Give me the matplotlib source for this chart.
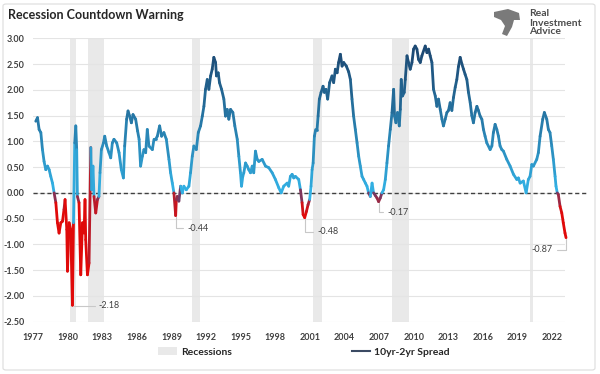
import matplotlib
matplotlib.use("Agg")
import matplotlib.pyplot as plt
import numpy as np
from matplotlib.collections import LineCollection
from matplotlib.colors import to_rgb
from matplotlib.patches import Patch, FancyBboxPatch, Polygon
from matplotlib.lines import Line2D

plt.rcParams['font.family'] = ['Lato', 'DejaVu Sans']

# 10yr-2yr spread (decimal year, percent)
years = [1977.23, 1977.38, 1977.52, 1977.67, 1977.81, 1977.95, 1978.10, 1978.25, 1978.39, 1978.53,
         1978.68, 1978.82, 1978.97, 1979.11, 1979.25, 1979.40, 1979.55, 1979.68, 1979.77, 1979.92,
         1979.98, 1980.12, 1980.26, 1980.41, 1980.50, 1980.61, 1980.70, 1980.78, 1980.84, 1980.98,
         1981.13, 1981.28, 1981.42, 1981.50, 1981.56, 1981.71, 1981.85, 1982.00, 1982.08, 1982.19,
         1982.28, 1982.43, 1982.58, 1982.71, 1982.80, 1982.92, 1983.10, 1983.21, 1983.38, 1983.58,
         1983.73, 1983.87, 1984.01, 1984.25, 1984.45, 1984.65, 1984.83, 1984.94, 1985.11, 1985.23,
         1985.37, 1985.52, 1985.66, 1985.89, 1986.06, 1986.19, 1986.32, 1986.47, 1986.61, 1986.76,
         1986.90, 1987.04, 1987.34, 1987.48, 1987.62, 1987.77, 1987.97, 1988.14, 1988.34, 1988.55,
         1988.78, 1988.92, 1989.07, 1989.21, 1989.36, 1989.42, 1989.50, 1989.64, 1989.79, 1989.94,
         1990.07, 1990.28, 1990.51, 1990.65, 1990.80, 1990.94, 1991.15, 1991.32, 1991.52, 1991.67,
         1991.81, 1991.95, 1992.10, 1992.24, 1992.39, 1992.53, 1992.67, 1992.82, 1992.90, 1993.05,
         1993.16, 1993.34, 1993.54, 1993.68, 1993.83, 1993.97, 1994.12, 1994.32, 1994.49, 1994.70,
         1994.84, 1994.98, 1995.07, 1995.18, 1995.27, 1995.42, 1995.56, 1995.70, 1995.85, 1996.00,
         1996.13, 1996.28, 1996.43, 1996.57, 1996.86, 1997.15, 1997.43, 1997.73, 1998.01, 1998.30,
         1998.51, 1998.73, 1999.03, 1999.16, 1999.31, 1999.46, 1999.60, 1999.74, 2000.03, 2000.18,
         2000.32, 2000.41, 2000.55, 2000.70, 2000.84, 2000.98, 2001.10, 2001.19, 2001.28, 2001.39,
         2001.50, 2001.62, 2001.71, 2001.82, 2001.97, 2002.14, 2002.26, 2002.40, 2002.54, 2002.71,
         2002.92, 2003.06, 2003.21, 2003.36, 2003.49, 2003.64, 2003.79, 2003.93, 2004.16, 2004.36,
         2004.51, 2004.65, 2004.79, 2004.94, 2005.09, 2005.23, 2005.37, 2005.52, 2005.66, 2005.81,
         2005.95, 2006.09, 2006.24, 2006.39, 2006.52, 2006.67, 2006.82, 2006.96, 2007.10, 2007.25,
         2007.39, 2007.54, 2007.68, 2007.82, 2007.97, 2008.12, 2008.26, 2008.34, 2008.46, 2008.60,
         2008.75, 2008.84, 2008.92, 2009.03, 2009.18, 2009.27, 2009.42, 2009.55, 2009.70, 2009.85,
         2009.99, 2010.13, 2010.28, 2010.42, 2010.57, 2010.71, 2011.00, 2011.15, 2011.29, 2011.43,
         2011.58, 2011.72, 2011.87, 2012.01, 2012.15, 2012.30, 2012.45, 2012.58, 2012.73, 2012.88,
         2013.02, 2013.16, 2013.31, 2013.45, 2013.60, 2013.74, 2013.88, 2014.03, 2014.18, 2014.32,
         2014.46, 2014.61, 2014.75, 2014.90, 2015.04, 2015.18, 2015.33, 2015.48, 2015.61, 2015.76,
         2015.91, 2016.05, 2016.19, 2016.34, 2016.63, 2016.78, 2016.91, 2017.06, 2017.21, 2017.35,
         2017.49, 2017.64, 2017.78, 2018.07, 2018.36, 2018.65, 2018.94, 2019.08, 2019.23, 2019.51,
         2019.75, 2019.94, 2020.09, 2020.24, 2020.38, 2020.67, 2020.81, 2020.96, 2021.19, 2021.33,
         2021.54, 2021.68, 2021.82, 2021.97, 2022.11, 2022.26, 2022.34, 2022.45, 2022.54, 2022.69,
         2022.84, 2022.97, 2023.12, 2023.21]
spread = [1.39, 1.46, 1.23, 1.17, 0.84, 0.61, 0.45, 0.52, 0.45, 0.32,
          0.19, 0.00, -0.19, -0.58, -0.78, -0.58, -0.55, -0.32, -0.13, -0.71,
          -1.52, -0.58, -0.71, -2.18, -0.58, 0.97, 1.30, 0.84, -0.07, -0.19,
          -1.59, -0.58, -0.78, -0.13, -0.91, -1.59, -1.36, 0.88, 0.06, 0.52,
          -0.07, -0.39, -0.13, -0.07, 0.39, 0.84, 0.97, 1.10, 0.91, 0.78,
          0.68, 0.97, 1.04, 0.97, 0.78, 0.45, 0.29, 0.91, 1.43, 1.59,
          1.49, 1.36, 1.52, 1.43, 1.20, 1.04, 0.52, 0.71, 0.84, 0.78,
          1.23, 0.91, 0.84, 1.04, 1.04, 1.10, 1.30, 1.10, 1.17, 1.04,
          0.65, 0.39, 0.19, 0.00, -0.44, -0.13, -0.07, -0.16, 0.13, 0.00,
          0.13, 0.06, 0.13, 0.39, 0.71, 0.91, 0.84, 1.17, 1.30, 1.49,
          1.68, 2.01, 2.20, 2.01, 2.27, 2.40, 2.63, 2.53, 2.27, 2.33,
          2.14, 2.01, 1.82, 1.49, 1.62, 1.43, 1.62, 1.56, 1.30, 1.04,
          0.71, 0.39, 0.13, 0.32, 0.39, 0.58, 0.52, 0.45, 0.39, 0.52,
          0.39, 0.81, 0.65, 0.61, 0.65, 0.52, 0.49, 0.39, 0.26, 0.10,
          0.00, 0.13, 0.19, 0.13, 0.32, 0.36, 0.29, 0.32, 0.26, 0.06,
          -0.19, -0.42, -0.48, -0.36, -0.23, -0.13, 0.13, 0.45, 0.58, 1.10,
          1.23, 1.23, 1.49, 1.82, 1.95, 2.07, 1.95, 2.01, 1.82, 2.14,
          2.27, 2.14, 2.40, 2.33, 2.53, 2.69, 2.46, 2.53, 2.46, 2.35,
          2.20, 1.82, 1.49, 1.23, 0.97, 0.71, 0.52, 0.32, 0.26, 0.19,
          0.13, 0.00, -0.07, 0.19, 0.00, -0.05, -0.10, -0.17, -0.10, 0.00,
          0.06, 0.26, 0.58, 0.91, 1.23, 1.56, 2.01, 1.49, 1.36, 1.56,
          1.30, 1.62, 2.20, 1.88, 1.95, 2.20, 2.66, 2.53, 2.40, 2.53,
          2.79, 2.85, 2.79, 2.59, 2.53, 2.66, 2.85, 2.72, 2.79, 2.66,
          2.53, 2.01, 1.88, 1.68, 1.82, 1.62, 1.43, 1.30, 1.43, 1.56,
          1.60, 1.75, 1.60, 1.85, 2.05, 2.20, 2.45, 2.63, 2.50, 2.40,
          2.30, 2.20, 1.95, 1.75, 1.50, 1.36, 1.56, 1.68, 1.60, 1.49,
          1.43, 1.23, 1.10, 0.97, 0.84, 0.91, 1.17, 1.33, 1.23, 1.10,
          0.91, 0.84, 0.81, 0.65, 0.52, 0.36, 0.26, 0.29, 0.19, 0.23,
          0.00, 0.26, 0.32, 0.55, 0.52, 0.65, 0.78, 1.10, 1.43, 1.56,
          1.43, 1.23, 1.17, 0.91, 0.65, 0.32, 0.13, 0.00, -0.03, -0.26,
          -0.39, -0.58, -0.78, -0.87]

# recession periods (start, end)
rec_start = [1980.18, 1981.74, 1990.74, 2001.30, 2008.14, 2020.11]
rec_end = [1980.70, 1983.12, 1991.43, 2002.08, 2009.61, 2020.37]

# labelled troughs: (year, value, label year, label value, alignment)
lows = [(1980.41, -2.18, 1982.69, -2.19, 'left'),
        (1989.36, -0.44, 1990.39, -0.69, 'left'),
        (2000.55, -0.48, 2001.63, -0.75, 'left'),
        (2006.96, -0.17, 2007.70, -0.38, 'left'),
        (2023.21, -0.87, 2022.08, -1.10, 'right')]

xticks = list(range(1977, 2023, 3))
yticks = np.arange(-2.5, 3.01, 0.5)

light = np.array(to_rgb('#33B4E8'))
dark = np.array(to_rgb('#1D4A74'))
purple = np.array(to_rgb('#6A3F6E'))
red = np.array(to_rgb('#E00A0A'))


def seg_color(v):
    if v >= 0:
        t = min(v / 2.7, 1.0) ** 0.9
        return light + (dark - light) * t
    t = min(-v / 0.35, 1.0)
    return purple + (red - purple) * t


fig = plt.figure(figsize=(6, 3.74), dpi=100)
fig.patch.set_facecolor('white')
ax = fig.add_axes([33 / 600, 1 - 321.7 / 374, (565 - 33) / 600, (321.7 - 38.3) / 374])

for s, e in zip(rec_start, rec_end):
    ax.axvspan(s, e, color='#E9E9E9', lw=0, zorder=0)

ax.set_yticks(yticks)
ax.set_yticklabels(['%.2f' % t for t in yticks])
ax.set_xticks(xticks)
ax.set_xticklabels([str(t) for t in xticks])
ax.set_ylim(-2.5, 3.0)
ax.set_xlim(1976.99, 2023.12)
ax.grid(axis='y', color='#E4E4E4', lw=0.8, zorder=0)
ax.set_axisbelow(True)
for sp in ax.spines.values():
    sp.set_visible(False)
ax.tick_params(length=0, labelsize=6.5, labelcolor='#404040')
ax.tick_params(axis='x', pad=8)
ax.tick_params(axis='y', pad=6)
for lab in ax.get_xticklabels() + ax.get_yticklabels():
    lab.set_fontweight('bold')

ax.plot([0, 1.04], [0, 0], transform=ax.get_yaxis_transform(), ls=(0, (3, 2)),
        color='#404040', lw=1.0, clip_on=False, zorder=2)

pts = np.column_stack([years, spread])
segs = np.stack([pts[:-1], pts[1:]], axis=1)
mids = (np.array(spread[:-1]) + np.array(spread[1:])) / 2
cols = [seg_color(v) for v in mids]
lc = LineCollection(segs, colors=cols, linewidths=2.0, capstyle='round',
                    joinstyle='round', zorder=3, clip_on=False)
ax.add_collection(lc)

for x, v, tx, tv, ha in lows:
    ax.annotate('%.2f' % v, xy=(x, v), xytext=(tx, tv), ha=ha, va='center',
                fontsize=6.5, color='#404040',
                arrowprops=dict(arrowstyle='-', color='#C8C8C8', lw=0.8,
                                shrinkA=1, shrinkB=1,
                                connectionstyle='angle,angleA=0,angleB=90,rad=0'),
                annotation_clip=False, zorder=4)

fig.text(8 / 600, 1 - 15 / 374, 'Recession Countdown Warning', fontsize=9,
         fontweight='bold', color='#262626', ha='left', va='center')

# logo
eagle_px = np.array([[494, 12], [508, 9], [519, 13], [520, 20], [514, 20], [512, 27],
                     [507, 36], [502, 34], [505, 26], [501, 20], [494, 17]])
eagle = Polygon(eagle_px * [1 / 100, -1 / 100] + [0, 3.74], closed=True,
                transform=fig.dpi_scale_trans, facecolor='#7A7A7A', edgecolor='none')
fig.patches.append(eagle)
fig.text(529 / 600, 1 - 23 / 374, 'Real\nInvestment\nAdvice', fontsize=7.5,
         fontweight='bold', color='#4D4D4D', ha='left', va='center',
         linespacing=1.0)

handles = [Patch(facecolor='#E9E9E9', edgecolor='none'),
           Line2D([], [], color='#3B4A63', lw=1.5)]
fig.legend(handles, ['Recessions', '10yr-2yr Spread'], loc='center',
           bbox_to_anchor=(304 / 600, 1 - 352 / 374), ncol=2, frameon=False,
           columnspacing=11.5, handlelength=1.8, handletextpad=0.4,
           prop={'size': 7.5, 'weight': 'bold'}, labelcolor='#262626')

border = FancyBboxPatch((3 / 600, 4 / 374), 592 / 600, 366 / 374,
                        boxstyle='round,pad=0,rounding_size=0.005',
                        transform=fig.transFigure, fill=False,
                        edgecolor='#DCDCDC', lw=0.8)
fig.patches.append(border)

fig.savefig('out.png', dpi=100)
